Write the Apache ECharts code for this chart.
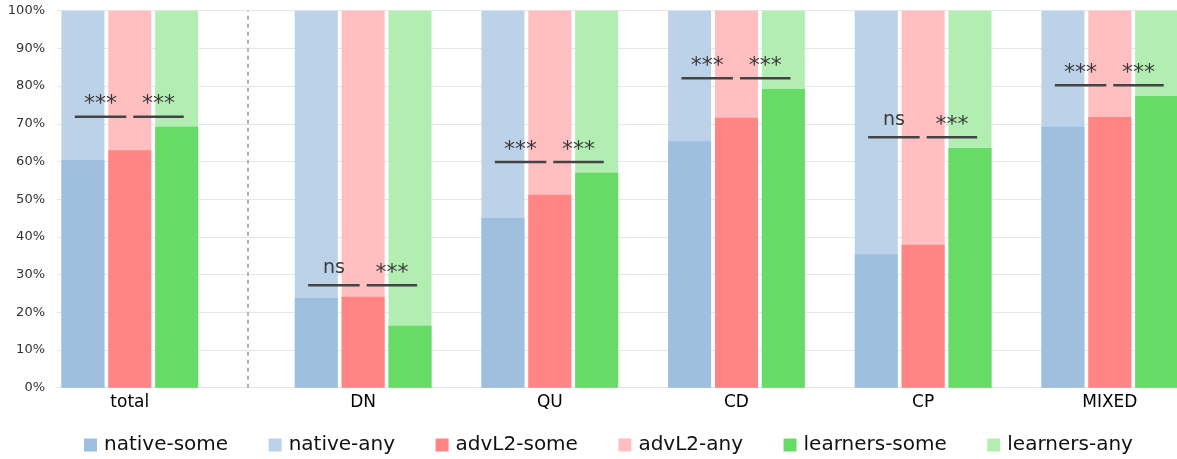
<!DOCTYPE html>
<html><head><meta charset="utf-8">
<script src="https://cdn.jsdelivr.net/npm/echarts@6/dist/echarts.min.js"></script>
<style>html,body{margin:0;padding:0;background:#fff}#c{width:1177px;height:459px}</style>
</head><body><div id="c"></div>
<script>
// ---- data ----
const categories = ['total', 'DN', 'QU', 'CD', 'CP', 'MIXED'];
const categoryPos = [0, 1.25, 2.25, 3.25, 4.25, 5.25];
const nativeSome   = [60.4, 23.8, 45.0, 65.4, 35.4, 69.2];
const advL2Some    = [63.0, 24.1, 51.2, 71.6, 37.9, 71.8];
const learnersSome = [69.2, 16.4, 57.0, 79.2, 63.6, 77.4];
const nativeAny    = [100, 100, 100, 100, 100, 100];
const advL2Any     = [100, 100, 100, 100, 100, 100];
const learnersAny  = [100, 100, 100, 100, 100, 100];
const sigHeight      = [71.9, 27.2, 59.9, 82.1, 66.4, 80.2];
const sigNativeAdv   = ['***', 'ns', '***', '***', 'ns', '***'];
const sigAdvLearners = ['***', '***', '***', '***', '***', '***'];
const separatorPos = 0.625;

// ---- chart ----
const FONT = 'DejaVu Sans';
const pair = (vals) => categoryPos.map((x, i) => [x, vals[i]]);
const xMin = -0.39, xMax = 5.61;
const barCommon = { type: 'bar', barWidth: 43, barGap: '9%', silent: true };

const chart = echarts.init(document.getElementById('c'), null, { renderer: 'canvas' });
chart.setOption({
  animation: false,
  textStyle: { fontFamily: FONT },
  grid: { left: 57, right: 0, top: 10.7, bottom: 71.3 },
  legend: {
    left: 79, top: 430, itemWidth: 13, itemHeight: 13, itemGap: 40.5,
    icon: 'rect',
    textStyle: { fontSize: 20, color: '#111', fontFamily: FONT, padding: [0, 0, 0, 2] },
    data: ['native-some', 'native-any', 'advL2-some', 'advL2-any', 'learners-some', 'learners-any']
  },
  xAxis: [
    {
      type: 'value', min: xMin, max: xMax,
      axisLine: { show: false }, axisTick: { show: false }, splitLine: { show: false },
      axisLabel: {
        customValues: categoryPos, fontSize: 17, color: '#000', margin: 6, fontFamily: FONT,
        formatter: (v) => {
          let best = 0;
          categoryPos.forEach((p, i) => { if (Math.abs(p - v) < Math.abs(categoryPos[best] - v)) best = i; });
          return categories[best];
        }
      }
    },
    { type: 'value', min: xMin, max: xMax, show: false }
  ],
  yAxis: {
    type: 'value', min: 0, max: 100, interval: 10,
    axisLine: { show: false }, axisTick: { show: false },
    splitLine: { lineStyle: { color: '#e6e6e6', width: 1 } },
    axisLabel: { formatter: '{value}%', fontSize: 13, color: '#333', margin: 12, fontFamily: FONT }
  },
  series: [
    Object.assign({ name: 'native-any', xAxisIndex: 0, data: pair(nativeAny), itemStyle: { color: '#bbd2e9' } }, barCommon),
    Object.assign({ name: 'advL2-any', xAxisIndex: 0, data: pair(advL2Any), itemStyle: { color: '#ffbfc0' },
      markLine: { silent: true, symbol: ['none', 'none'], label: { show: false },
        lineStyle: { type: [4, 4], color: '#999', width: 1.5 }, data: [{ xAxis: separatorPos }] } }, barCommon),
    Object.assign({ name: 'learners-any', xAxisIndex: 0, data: pair(learnersAny), itemStyle: { color: '#b2edb2' } }, barCommon),
    Object.assign({ name: 'native-some', xAxisIndex: 1, data: pair(nativeSome), itemStyle: { color: '#9fbfdf' } }, barCommon),
    Object.assign({ name: 'advL2-some', xAxisIndex: 1, data: pair(advL2Some), itemStyle: { color: '#ff8484' } }, barCommon),
    Object.assign({ name: 'learners-some', xAxisIndex: 1, data: pair(learnersSome), itemStyle: { color: '#66dc66' } }, barCommon),
    {
      type: 'custom', name: 'sig', xAxisIndex: 0, silent: true, z: 10,
      data: categoryPos.map((x, i) => [x, sigHeight[i], i]),
      renderItem: (params, api) => {
        const i = api.value(2);
        const p = api.coord([api.value(0), api.value(1)]);
        const children = [];
        [[-55, -3.5, sigNativeAdv[i]], [3.5, 54, sigAdvLearners[i]]].forEach(([a, b, t]) => {
          const ns = t === 'ns';
          children.push({ type: 'line', shape: { x1: p[0] + a, y1: p[1], x2: p[0] + b, y2: p[1] },
            style: { stroke: '#444', lineWidth: 2.5 } });
          children.push({ type: 'text', x: p[0] + (a + b) / 2, y: p[1] - (ns ? 17 : 12),
            style: { text: t, fill: '#3a3a3a', font: (ns ? '19px' : '22px') + ' "DejaVu Sans"', align: 'center', verticalAlign: 'middle' } });
        });
        return { type: 'group', children };
      }
    }
  ]
});
</script></body></html>
